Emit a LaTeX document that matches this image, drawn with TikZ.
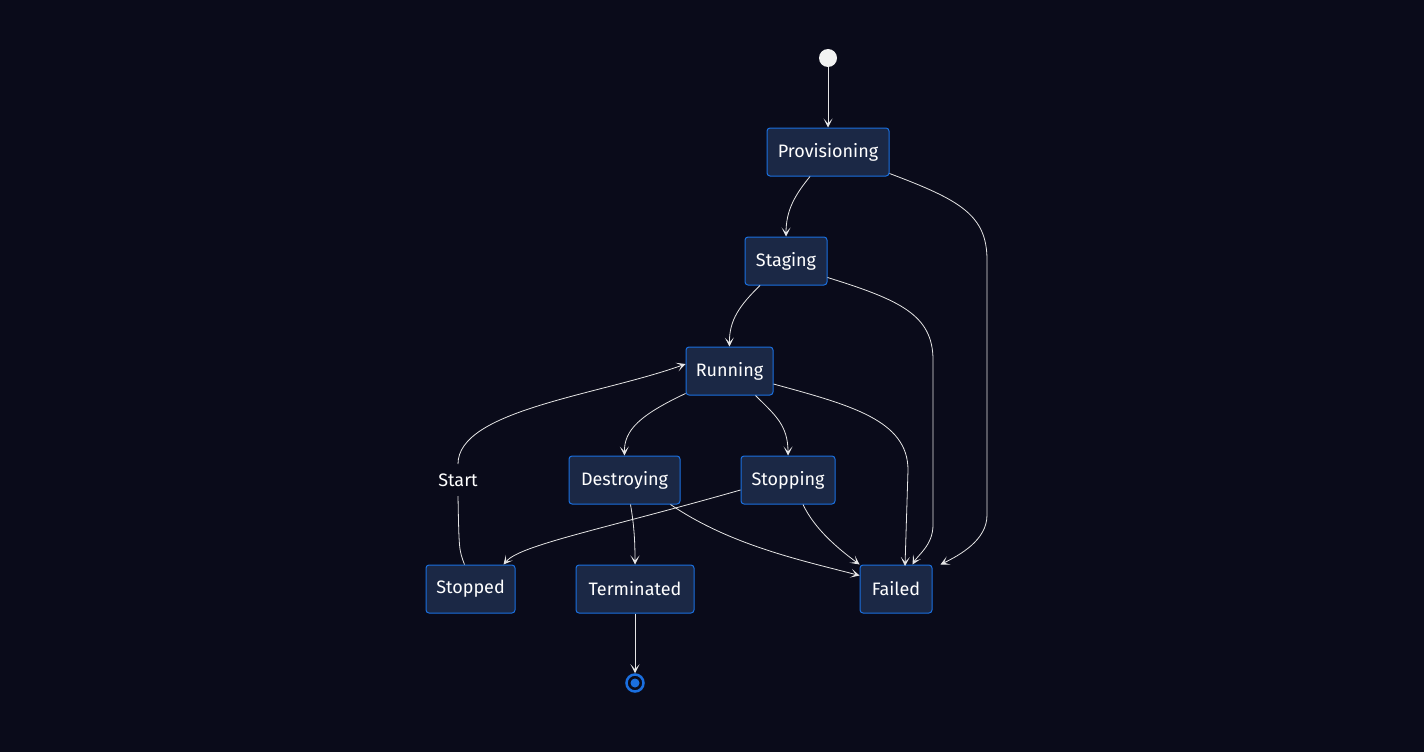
\documentclass[tikz,border=0pt]{standalone}
\usepackage{fontspec}
\setmainfont{Fira Sans}
\usetikzlibrary{arrows.meta}
\definecolor{bg}{HTML}{0A0B1A}
\definecolor{nf}{HTML}{1B2845}
\definecolor{nb}{HTML}{1A6FE0}
\begin{document}
\begin{tikzpicture}[x=1pt,y=-1pt,
  st/.style={draw=nb,fill=nf,rounded corners=3pt,line width=1pt,minimum height=48pt,inner sep=0pt,text=white,font=\fontsize{18}{20}\selectfont},
  e/.style={draw=white!90!black,line width=0.8pt,-{Stealth[length=9pt,width=9pt,inset=5pt]}}]
\fill[bg] (0,0) rectangle (1424,752);
\useasboundingbox (0,0) rectangle (1424,752);
\node[circle,fill=white!95!black,minimum size=18pt,inner sep=0] (s) at (828,58) {};
\node[st,minimum width=122pt] (prov) at (828,152) {Provisioning};
\node[st,minimum width=82pt] (stag) at (786,261) {Staging};
\node[st,minimum width=87pt] (run) at (729.5,371) {Running};
\node[st,minimum width=111pt] (des) at (624.5,480) {Destroying};
\node[st,minimum width=94pt] (stp) at (788,480) {Stopping};
\node[st,minimum width=89pt] (sto) at (470.5,589) {Stopped};
\node[st,minimum width=118pt] (ter) at (635,589) {Terminated};
\node[st,minimum width=72pt] (fail) at (896,589) {Failed};
\node[circle,draw=nb,line width=2.5pt,fill=bg,minimum size=17pt,inner sep=0] (end) at (635,683) {};
\fill[nb] (end) circle (4.5pt);
\node[text=white,font=\fontsize{18}{20}\selectfont] (lab) at (458,480) {Start};
\coordinate (labt) at (458,464); \coordinate (labb) at (458,496);
\draw[e] (s) -- (prov);
\draw[e] (prov.south) ++(-18,0) coordinate (a1) (a1) .. controls (795,195) and (786,210) .. (stag.north);
\draw[e] (prov.south east) ++(0,-3) coordinate (a2) (a2) .. controls (960,200) and (987,215) .. (987,260) -- (987,515) .. controls (987,540) and (960,555) .. ([xshift=8pt]fail.north east);
\draw[e] (stag.south) ++(-26,0) coordinate (a3) (a3) .. controls (740,305) and (729,320) .. (run.north);
\draw[e] (stag.south east) ++(0,-8) coordinate (a4) (a4) .. controls (900,300) and (933,315) .. (933,360) -- (933,525) .. controls (933,545) and (918,555) .. ([xshift=-20pt]fail.north east);
\draw[e] (run.south west) ++(0,-2) coordinate (a5) (a5) .. controls (640,415) and (624,430) .. (des.north);
\draw[e] (run.south east) ++(-18,0) coordinate (a6) (a6) .. controls (775,415) and (788,425) .. (stp.north);
\draw[e] (run.east) ++(0,13) coordinate (a7) (a7) .. controls (850,405) and (908,420) .. (908,470) -- (905,566);
\draw[e] (des.south) ++(6,0) coordinate (a8) (a8) .. controls (634,525) and (635,540) .. (ter.north);
\draw[e] (des.south east) ++(-10,0) coordinate (a9) (a9) .. controls (730,545) and (800,560) .. ([yshift=-11pt]fail.north west);
\draw[e] (stp.west) ++(0,10) coordinate (b1) (b1) .. controls (600,530) and (520,545) .. ([xshift=-12pt]sto.north east);
\draw[e] (stp.south) ++(15,0) coordinate (b2) (b2) .. controls (815,530) and (840,550) .. (fail.north west);
\draw[line width=0.8pt,white!90!black] ([xshift=-6pt]sto.north) .. controls (459,550) .. (labb);
\draw[e] (labt) .. controls (458,410) and (600,395) .. ([yshift=7pt]run.west);
\draw[e] (ter) -- (end);
\end{tikzpicture}
\end{document}
